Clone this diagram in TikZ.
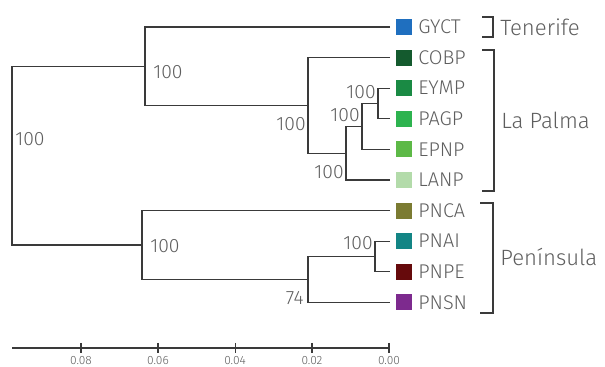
\documentclass[tikz,border=0pt]{standalone}
\usepackage{fontspec}
\setmainfont{Fira Sans}[UprightFont=* Light]
\definecolor{linegray}{HTML}{3A3A3A}
\definecolor{txtgray}{HTML}{5E5E5E}
\definecolor{cGYCT}{HTML}{1F6FBF}
\definecolor{cCOBP}{HTML}{145A2E}
\definecolor{cEYMP}{HTML}{1A8A44}
\definecolor{cPAGP}{HTML}{2DB34F}
\definecolor{cEPNP}{HTML}{5DB947}
\definecolor{cLANP}{HTML}{B3DBAA}
\definecolor{cPNCA}{HTML}{7B7B32}
\definecolor{cPNAI}{HTML}{138585}
\definecolor{cPNPE}{HTML}{660A0C}
\definecolor{cPNSN}{HTML}{7D2A8E}
\tikzset{
    branch/.style={draw=linegray, line width=0.6pt},
    swatch/.style={fill=#1, minimum size=0.32cm, inner sep=0pt},
    leaf/.style={anchor=west, inner sep=0pt, text=txtgray, font=\fontsize{11.3}{13}\selectfont},
    boot/.style={inner sep=0pt, text=txtgray, font=\fontsize{11}{13}\selectfont},
    group/.style={anchor=west, inner sep=0pt, text=txtgray, font=\fontsize{12.6}{15}\selectfont},
    tick/.style={inner sep=0pt, text=txtgray, font=\fontsize{6.8}{8}\selectfont}
}
\begin{document}
\begin{tikzpicture}[x=0.02cm, y=-0.02cm]
                \useasboundingbox (0, 0) rectangle (605, 367);

                % leaves
                \foreach \name [count=\i from 0] in {GYCT, COBP, EYMP, PAGP, EPNP, LANP, PNCA, PNAI, PNPE, PNSN} {
                    \coordinate (t\name) at (390, {27 + 30.6 * \i});
                    \node[swatch=c\name] (s\name) at (404, {27 + 30.6 * \i}) {};
                    \node[leaf] (\name) at (418, {27 + 30.6 * \i}) {\name};
                }

                % inner nodes
                \coordinate (F) at (378, 103.5);
                \coordinate (E) at (362, 126.5);
                \coordinate (D) at (346, 153.2);
                \coordinate (C) at (308, 105.4);
                \coordinate (A) at (145, 66.2);
                \coordinate (H) at (375, 256.5);
                \coordinate (G) at (308, 279.5);
                \coordinate (B) at (142, 245);
                \coordinate (R) at (12, 155.6);

                \draw[branch] (tEYMP) -| (F) |- (tPAGP);
                \draw[branch] (F) -| (E) |- (tEPNP);
                \draw[branch] (E) -| (D) |- (tLANP);
                \draw[branch] (tCOBP) -| (C) |- (D);
                \draw[branch] (tGYCT) -| (A) |- (C);
                \draw[branch] (tPNAI) -| (H) |- (tPNPE);
                \draw[branch] (H) -| (G) |- (tPNSN);
                \draw[branch] (tPNCA) -| (B) |- (G);
                \draw[branch] (A) -| (R) |- (B);

                % bootstrap values
                \node[boot, anchor=west] (bR) at (15, 139) {100};
                \node[boot, anchor=west] (bA) at (153, 72) {100};
                \node[boot, anchor=east] (bC) at (306, 124) {100};
                \node[boot, anchor=east] (bD) at (344, 172) {100};
                \node[boot, anchor=east] (bE) at (360, 115) {100};
                \node[boot, anchor=east] (bF) at (376, 92) {100};
                \node[boot, anchor=west] (bB) at (150, 246) {100};
                \node[boot, anchor=east] (bG) at (304, 298) {74};
                \node[boot, anchor=east] (bH) at (373, 243) {100};

                % groups
                \draw[branch] (482, 17) -| (493, 37) -- (482, 37);
                \draw[branch] (482, 50) -| (494, 191) -- (482, 191);
                \draw[branch] (480, 203) -| (493, 313) -- (480, 313);
                \node[group] (tenerife) at (500, 27) {Tenerife};
                \node[group] (lapalma) at (501, 120) {La Palma};
                \node[group] (peninsula) at (500, 257) {Península};

                % scale
                \coordinate (axL) at (12, 348);
                \coordinate (axR) at (389, 348);
                \draw[branch] (axL) -- (axR);
                \foreach \v [count=\k] in {0.00, 0.02, 0.04, 0.06, 0.08} {
                    \draw[branch] ({389 - 3850 * \v}, 343) -- ({389 - 3850 * \v}, 353);
                    \node[tick] (tk\k) at ({389 - 3850 * \v}, 361) {\v};
                }
            \end{tikzpicture}
\end{document}
